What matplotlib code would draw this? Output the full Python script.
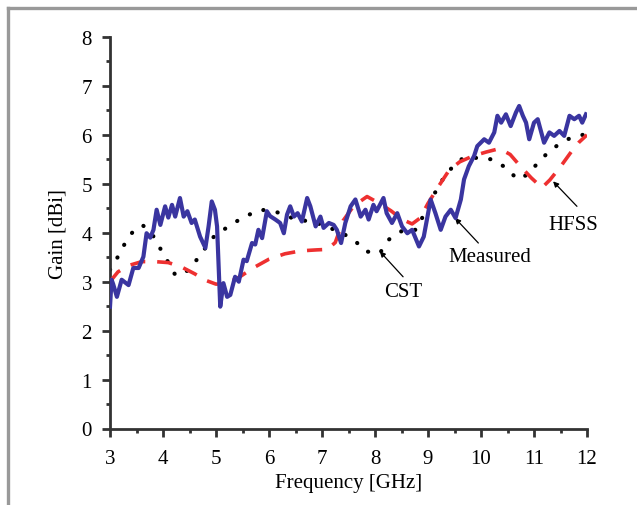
import matplotlib
matplotlib.use("Agg")
import matplotlib.pyplot as plt
from matplotlib.lines import Line2D
from matplotlib.ticker import MultipleLocator

plt.rcParams['font.family'] = ['Liberation Serif', 'DejaVu Serif']

# Measured (blue solid)
meas_f = [3.0, 3.03, 3.06, 3.13, 3.22, 3.35, 3.44, 3.54, 3.63, 3.69, 3.76, 3.82, 3.88, 3.95,
          4.04, 4.10, 4.17, 4.23, 4.32, 4.39, 4.46, 4.54, 4.60, 4.70, 4.80, 4.86, 4.92,
          4.98, 5.02, 5.08, 5.14, 5.21, 5.27, 5.36, 5.43, 5.52, 5.58, 5.68, 5.74, 5.80,
          5.87, 5.96, 6.02, 6.12, 6.21, 6.28, 6.34, 6.40, 6.47, 6.54, 6.62, 6.72, 6.78,
          6.88, 6.97, 7.03, 7.13, 7.22, 7.28, 7.36, 7.44, 7.54, 7.63, 7.73, 7.82, 7.88,
          7.97, 8.03, 8.16, 8.22, 8.32, 8.42, 8.51, 8.61, 8.70, 8.83, 8.92, 9.05, 9.14,
          9.24, 9.33, 9.43, 9.52, 9.62, 9.68, 9.77, 9.87, 9.93, 10.06, 10.15, 10.25,
          10.31, 10.38, 10.47, 10.56, 10.66, 10.72, 10.79, 10.85, 10.91, 11.00, 11.07,
          11.19, 11.29, 11.38, 11.48, 11.57, 11.67, 11.76, 11.85, 11.91, 11.98]
meas_g = [2.49, 3.04, 2.95, 2.69, 3.04, 2.93, 3.28, 3.28, 3.51, 3.99, 3.90, 4.06, 4.47, 4.16,
          4.54, 4.31, 4.57, 4.33, 4.71, 4.33, 4.44, 4.20, 4.27, 3.92, 3.69, 4.13, 4.64,
          4.47, 4.13, 2.49, 2.97, 2.69, 2.73, 3.10, 3.00, 3.45, 3.42, 3.79, 3.76, 4.06,
          3.89, 4.44, 4.34, 4.27, 4.20, 3.99, 4.37, 4.54, 4.33, 4.40, 4.23, 4.71, 4.54,
          4.13, 4.33, 4.10, 4.20, 4.16, 4.06, 3.79, 4.20, 4.54, 4.68, 4.33, 4.47, 4.27,
          4.57, 4.44, 4.71, 4.40, 4.20, 4.40, 4.13, 3.99, 4.06, 3.72, 3.92, 4.68, 4.40,
          4.06, 4.33, 4.47, 4.30, 4.68, 5.09, 5.36, 5.57, 5.77, 5.91, 5.84, 6.05,
          6.39, 6.25, 6.42, 6.18, 6.46, 6.59, 6.39, 6.25, 5.91, 6.25, 6.32,
          5.84, 6.05, 5.98, 6.08, 5.98, 6.39, 6.32, 6.39, 6.25, 6.42]

# HFSS (red dashed)
hfss_f = [3.0, 3.15, 3.35, 3.6, 3.85, 4.1, 4.35, 4.6, 4.8, 5.0, 5.2, 5.45, 5.7, 6.0, 6.3,
          6.6, 6.9, 7.1, 7.25, 7.4, 7.6, 7.85, 8.05, 8.3, 8.5, 8.7, 8.85, 9.0, 9.2, 9.4,
          9.6, 9.85, 10.1, 10.35, 10.55, 10.75, 10.95, 11.15, 11.3, 11.5, 11.7, 11.85, 12.0]
hfss_g = [3.0, 3.2, 3.33, 3.41, 3.41, 3.39, 3.3, 3.16, 3.03, 2.95, 2.96, 3.1, 3.28, 3.46, 3.57,
          3.63, 3.65, 3.66, 3.8, 4.25, 4.55, 4.74, 4.62, 4.45, 4.28, 4.18, 4.3, 4.6, 4.95, 5.28,
          5.45, 5.57, 5.65, 5.72, 5.6, 5.35, 5.12, 4.92, 5.08, 5.35, 5.65, 5.85, 6.0]

# CST (black dotted)
cst_f = [3.0, 3.16, 3.30, 3.47, 3.62, 3.78, 3.91, 4.07, 4.23, 4.40, 4.61, 4.80, 4.98, 5.27,
         5.53, 5.86, 6.15, 6.44, 6.75, 7.03, 7.29, 7.45, 7.60, 7.82, 8.09, 8.26, 8.54,
         8.78, 8.92, 9.05, 9.21, 9.33, 9.62, 9.90, 10.21, 10.47, 10.69, 10.88, 11.10,
         11.32, 11.63, 11.95, 12.0]
cst_g = [3.24, 3.53, 3.82, 4.08, 4.15, 4.0, 3.75, 3.45, 3.14, 3.16, 3.41, 3.69, 3.95, 4.15,
         4.33, 4.47, 4.42, 4.30, 4.23, 4.16, 4.03, 3.95, 3.86, 3.62, 3.58, 3.86, 4.06,
         4.06, 4.37, 4.68, 4.95, 5.2, 5.50, 5.53, 5.50, 5.33, 5.09, 5.19, 5.46,
         5.70, 5.91, 6.01, 6.02]

x_ticks = [3, 4, 5, 6, 7, 8, 9, 10, 11, 12]
y_ticks = [0, 1, 2, 3, 4, 5, 6, 7, 8]

FS = 15

fig = plt.figure(figsize=(6.37, 5.06), dpi=100)
ax = fig.add_axes([110/637, 1 - 429.5/506, (587 - 110)/637, (429.5 - 38)/506])

ax.plot(cst_f, cst_g, color='black', linestyle=(0, (0.05, 3.4)), linewidth=3.0,
        dash_capstyle='round', zorder=2)
ax.plot(hfss_f, hfss_g, color='#ee3030', linestyle=(0, (4.2, 3.3)), linewidth=2.6, zorder=3)
ax.plot(meas_f, meas_g, color='#3a35a0', linewidth=3.0, zorder=4)

ax.set_xlim(3, 12)
ax.set_ylim(0, 8)
ax.set_xticks(x_ticks)
ax.set_yticks(y_ticks)
ax.xaxis.set_minor_locator(MultipleLocator(0.5))
ax.yaxis.set_minor_locator(MultipleLocator(0.5))
for s in ['top', 'right']:
    ax.spines[s].set_visible(False)
for s in ['left', 'bottom']:
    ax.spines[s].set_linewidth(2)
    ax.spines[s].set_color('#333333')
ax.tick_params(which='major', direction='out', length=6, width=2, color='#333333',
               labelsize=FS)
ax.tick_params(which='minor', direction='out', length=3, width=2, color='#333333')
ax.tick_params(axis='x', which='major', pad=9)
ax.tick_params(axis='y', which='major', pad=7)
ax.set_xlabel('Frequency [GHz]', fontsize=FS, labelpad=3.5)
ax.set_ylabel('Gain [dBi]', fontsize=FS, labelpad=10)

arrow = dict(arrowstyle='-|>', color='black', lw=0.9, mutation_scale=8, shrinkA=0, shrinkB=0)
ax.annotate('', xy=(8.09, 3.62), xytext=(8.53, 3.10), arrowprops=arrow)
ax.text(8.53, 2.80, 'CST', ha='center', va='center', fontsize=FS)
ax.annotate('', xy=(9.51, 4.30), xytext=(9.95, 3.79), arrowprops=arrow)
ax.text(10.17, 3.51, 'Measured', ha='center', va='center', fontsize=FS)
ax.annotate('', xy=(11.36, 5.05), xytext=(11.81, 4.54), arrowprops=arrow)
ax.text(11.74, 4.16, 'HFSS', ha='center', va='center', fontsize=FS)

# grey frame on top and left
fig.add_artist(Line2D([7.5/637, 1.0], [1 - 8.5/506, 1 - 8.5/506], color='#999999',
                      linewidth=2.4, transform=fig.transFigure))
fig.add_artist(Line2D([7.5/637, 7.5/637], [0, 1 - 8.5/506], color='#999999',
                      linewidth=2.4, transform=fig.transFigure))

fig.savefig('out.png', dpi=100)
